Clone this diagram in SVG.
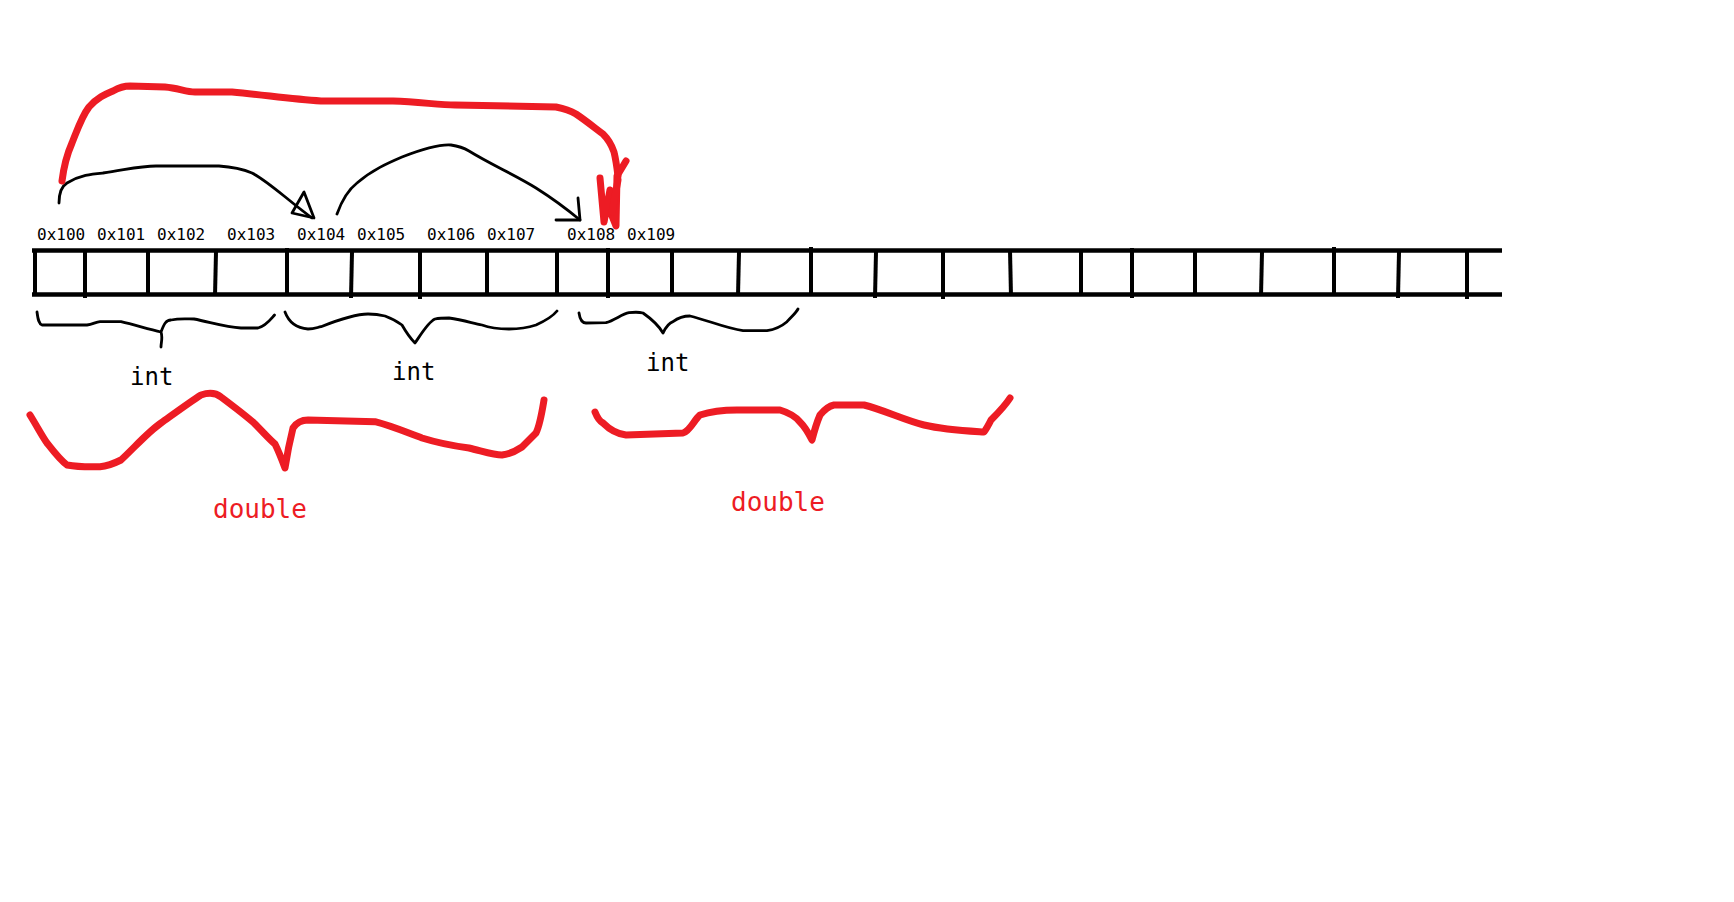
<svg xmlns="http://www.w3.org/2000/svg" width="1734" height="902" viewBox="0 0 1734 902">
<style>
.bar{stroke:#000;stroke-width:4.5;fill:none;stroke-linecap:butt}
.div{stroke:#000;stroke-width:4;fill:none}
.blk{stroke:#000;stroke-width:2.8;fill:none;stroke-linejoin:round;stroke-linecap:round}
.red{stroke:#ed1c24;stroke-width:7;fill:none;stroke-linejoin:round;stroke-linecap:round}
.addr{font-family:"DejaVu Sans Mono","Liberation Mono",monospace;font-size:16px;fill:#000}
.int{font-family:"DejaVu Sans Mono","Liberation Mono",monospace;font-size:24px;fill:#000}
.dbl{font-family:"DejaVu Sans Mono","Liberation Mono",monospace;font-size:26px;fill:#ed1c24}
</style>
<rect width="1734" height="902" fill="#fff"/>
<g id="memory">
<line class="bar" x1="32" y1="250.5" x2="1502" y2="250.5"/>
<line class="bar" x1="32" y1="294.5" x2="1502" y2="294.5"/>
<g class="div">
<line x1="35" y1="250" x2="35" y2="296"/>
<line x1="85" y1="250" x2="85" y2="298"/>
<line x1="148" y1="250" x2="148" y2="296"/>
<line x1="216" y1="252" x2="215" y2="296"/>
<line x1="287" y1="248" x2="287" y2="296"/>
<line x1="352" y1="252" x2="351" y2="298"/>
<line x1="420" y1="250" x2="420" y2="299"/>
<line x1="487" y1="250" x2="487" y2="296"/>
<line x1="557" y1="250" x2="557" y2="296"/>
<line x1="608" y1="248" x2="608" y2="298"/>
<line x1="672" y1="250" x2="672" y2="296"/>
<line x1="739" y1="252" x2="738" y2="296"/>
<line x1="811" y1="247" x2="811" y2="296"/>
<line x1="876" y1="252" x2="875" y2="298"/>
<line x1="943" y1="250" x2="943" y2="299"/>
<line x1="1010" y1="250" x2="1011" y2="296"/>
<line x1="1081" y1="250" x2="1081" y2="296"/>
<line x1="1132" y1="248" x2="1132" y2="298"/>
<line x1="1195" y1="250" x2="1195" y2="296"/>
<line x1="1262" y1="252" x2="1261" y2="296"/>
<line x1="1334" y1="247" x2="1334" y2="296"/>
<line x1="1399" y1="252" x2="1398" y2="298"/>
<line x1="1467" y1="250" x2="1467" y2="299"/>
</g>
</g>
<g id="addresses">
<text class="addr" x="37" y="240">0x100</text>
<text class="addr" x="97" y="240">0x101</text>
<text class="addr" x="157" y="240">0x102</text>
<text class="addr" x="227" y="240">0x103</text>
<text class="addr" x="297" y="240">0x104</text>
<text class="addr" x="357" y="240">0x105</text>
<text class="addr" x="427" y="240">0x106</text>
<text class="addr" x="487" y="240">0x107</text>
<text class="addr" x="567" y="240">0x108</text>
<text class="addr" x="627" y="240">0x109</text>
</g>
<g id="connectors">
<path class="blk" d="M59,203 C59,192 62,186 67,183 C80,175 92,174 103,173 C125,170 140,166 156,166 L219,166 C235,167 245,170 252,173 C268,181 285,198 312,218"/>
<path class="blk" d="M304,192 L292,213 L314,218 Z"/>
<path class="blk" d="M337,214 C342,200 348,190 357,183 C372,170 388,163 402,157 C420,150 438,144 451,145 C458,146 464,148 469,151 C490,164 515,175 536,188 C555,200 568,210 580,220"/>
<path class="blk" d="M578,198 L580,220 L556,220"/>
<path class="red" d="M62,181 C64,165 68,152 72,143 C78,128 82,116 89,107 C98,97 106,94 113,91 C120,87 124,86 130,86 L165,87 C178,88 186,92 195,92 L232,92 C265,95 290,99 321,101 L393,101 C420,102 440,105 455,105 L556,107 C566,109 571,111 576,114 C585,120 595,128 603,134 C609,140 612,146 614,152 C616,160 617,168 618,176"/>
<path class="red" d="M600,178 L604,222 L610,190 L612,216 L616,226 L617,176 L626,161"/>
<path class="red" d="M612,212 L618,180"/>
</g>
<g id="int-braces">
<path class="blk" d="M37,312 C38,320 39,324 42,325 L87,325 C93,324 96,322 100,321.7 L121,321.7 C135,325 148,329 161,332 C163,338 161,342 161,347 M161,332 C164,324 166,320 171,320 C180,318 188,319 194,319 C210,322 225,327 241,328 L258,328 C266,326 270,320 274.5,315"/>
<path class="blk" d="M285,312 C288,320 295,328 308,329 C315,329 318,327 321,326.7 C338,320 355,314 368,314 C376,314 381,315 385,316 C393,319 398,322 402,325 C406,332 410,338 415,343 C420,336 428,322 435,319 C440,318 444,318 449,318 C463,320 472,323 482,325 C490,328 500,329 509,329 C520,329 530,327 536,325 C547,320 553,316 557,311"/>
<path class="blk" d="M579,313 C580,320 582,323 586,323 L606,322.7 C615,320 622,314 629,312.7 C635,312 639,312 643,313 C653,320 659,326 663,333 C666,327 669,323 673,321.7 C678,318 684,316 690,316 C707,320 725,328 743,330.7 L767,330.7 C777,329 782,326 787,321.7 C792,316 796,313 798,309"/>
</g>
<g id="double-braces">
<path class="red" d="M30,415 C38,428 42,436 47,443 C54,452 60,460 67,465 C78,467 90,467 100,466.7 C109,466 115,463 121,460 C135,447 148,432 161,423 C175,413 190,402 201,395 C210,392 216,393 221,397 C233,406 245,415 254,423 C263,432 270,440 275,444 C279,452 282,460 285,468 C287,455 290,440 293,428 C297,422 302,420 308,420 L375,421.7 C392,426 408,433 422,438 C438,443 454,446 469,448 C482,451 494,455 502,455 C510,454 516,451 522,447 C528,441 532,437 536,433 C540,425 542,412 544,400"/>
<path class="red" d="M595,412 C597,417 599,421 603,423 C610,430 617,434 626,435 L683,433 C690,431 694,420 700,415 C712,411 725,410 737,410 L780,410 C790,413 796,417 800,422 C806,428 809,434 812,440 C814,432 817,422 820,415 C825,409 829,406 834,405 L864,405 C884,410 904,420 924,425 C945,430 968,431 984,432 C987,428 989,424 991,420 C998,413 1005,406 1010,398"/>
</g>
<g id="labels">
<text class="int" x="130" y="385">int</text>
<text class="int" x="392" y="380">int</text>
<text class="int" x="646" y="371">int</text>
<text class="dbl" x="213" y="518">double</text>
<text class="dbl" x="731" y="511">double</text>
</g>
</svg>
